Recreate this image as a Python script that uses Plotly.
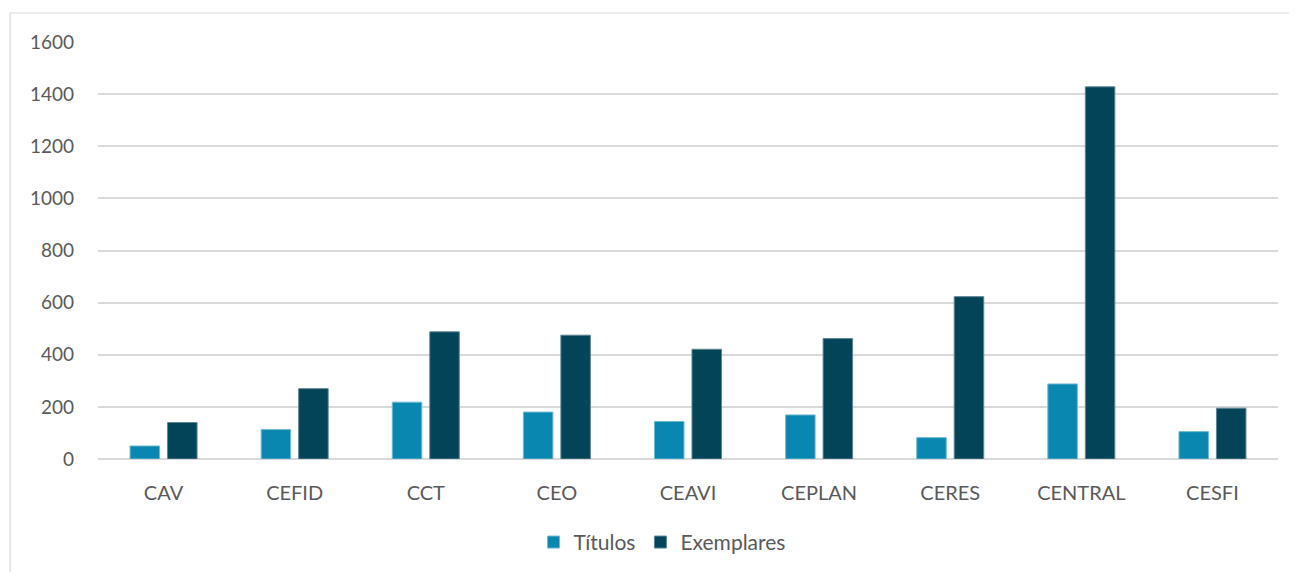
import plotly.graph_objects as go

categories = ["CAV", "CEFID", "CCT", "CEO", "CEAVI", "CEPLAN", "CERES", "CENTRAL", "CESFI"]
titulos = [50, 113, 218, 180, 144, 169, 82, 288, 105]
exemplares = [140, 270, 488, 475, 421, 462, 623, 1428, 195]
y_ticks = [0, 200, 400, 600, 800, 1000, 1200, 1400, 1600]

FONT = "Lato, Carlito, Calibri, 'Open Sans', sans-serif"

fig = go.Figure()
fig.add_trace(go.Bar(
    x=categories, y=titulos, name="Títulos",
    marker=dict(color="#0A87B0", line=dict(color="#6FB9D3", width=1)),
))
fig.add_trace(go.Bar(
    x=categories, y=exemplares, name="Exemplares",
    marker=dict(color="#034459", line=dict(color="#5E8594", width=1)),
))

W, H = 1297, 572
OFF = 8  # page body offset
pw, ph = 1180, 417
L, T = 98 - OFF, 42 - OFF
R, B = W - L - pw, H - T - ph

fig.update_layout(
    width=W, height=H,
    margin=dict(l=L, r=R, t=T, b=B),
    paper_bgcolor="white", plot_bgcolor="white",
    barmode="group", bargap=0.428, bargroupgap=0.213,
    font=dict(family=FONT, size=19, color="#595959"),
    showlegend=True,
    legend=dict(orientation="h", x=0.478, xanchor="center", y=-0.2, yanchor="middle",
                font=dict(family=FONT, size=21, color="#595959"), itemwidth=30,
                tracegroupgap=0),
    xaxis=dict(showgrid=False, showline=False, ticks="", ticklabelstandoff=20,
               tickfont=dict(size=20, color="#595959"), fixedrange=True),
    yaxis=dict(range=[0, 1600], tickvals=y_ticks, showgrid=True, gridcolor="#D9D9D9",
               gridwidth=1.5, zeroline=True, zerolinecolor="#D9D9D9", zerolinewidth=1.5,
               showline=False, ticks="", ticklabelstandoff=23,
               tickfont=dict(size=19, color="#595959")),
    shapes=[dict(type="rect", xref="paper", yref="paper",
                 x0=(10 - OFF - L) / pw, x1=(W + 20 - L) / pw,
                 y0=-(H + 20 - (T + ph)) / ph, y1=1 + (T - (13 - OFF)) / ph,
                 line=dict(color="#D9D9D9", width=1.2), layer="below")],
)

fig.write_html("out.html")
